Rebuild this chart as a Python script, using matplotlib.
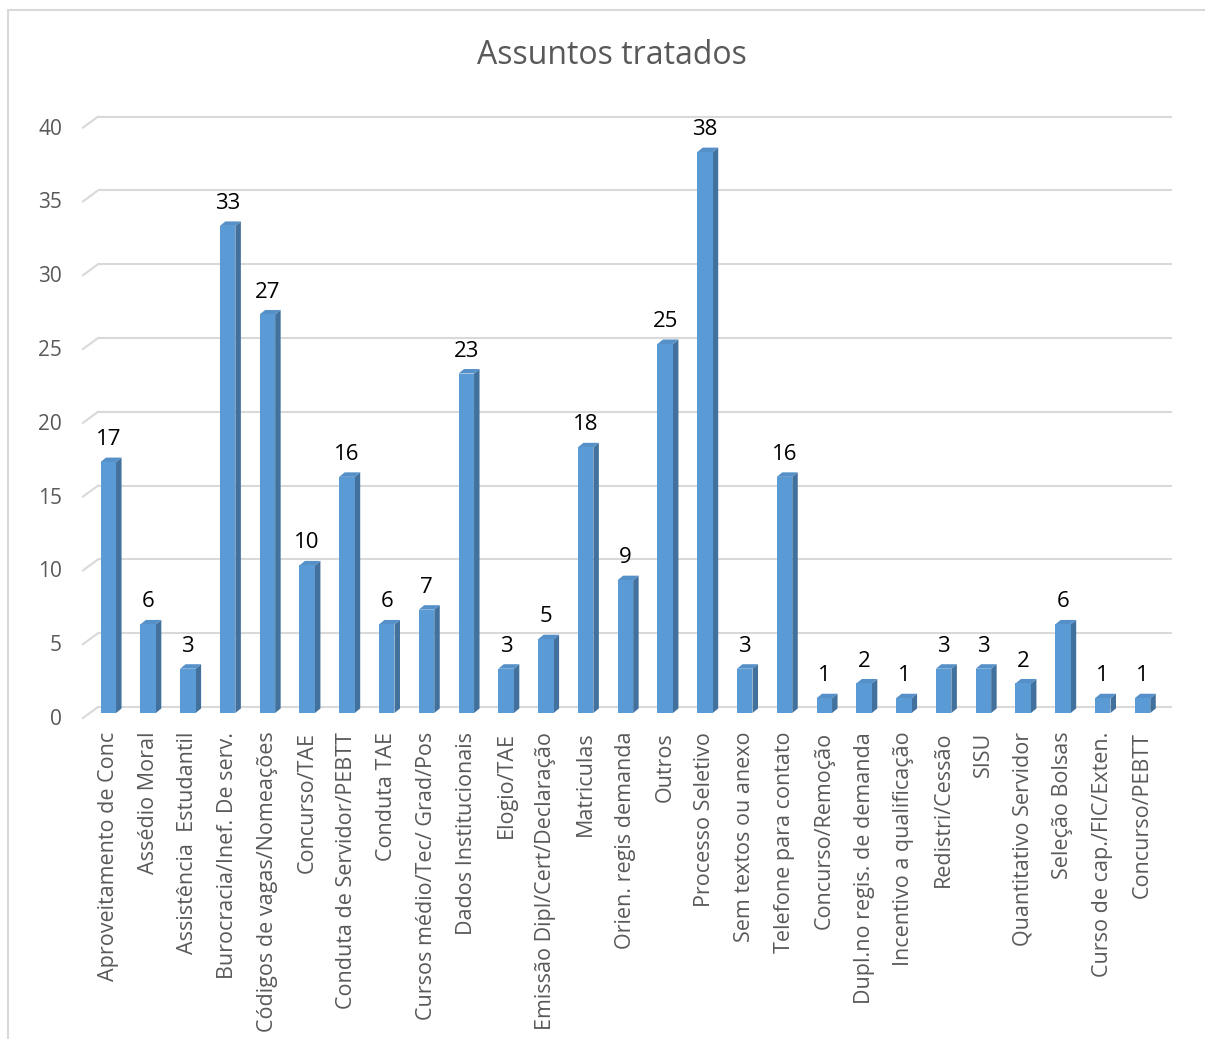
import matplotlib
matplotlib.use("Agg")
import matplotlib.pyplot as plt
from matplotlib.patches import Polygon, Rectangle
from matplotlib.transforms import ScaledTranslation

# categories and counts
categorias = [
    "Aproveitamento de Conc", "Assédio Moral", "Assistência  Estudantil",
    "Burocracia/Inef. De serv.", "Códigos de vagas/Nomeações", "Concurso/TAE",
    "Conduta de Servidor/PEBTT", "Conduta TAE", "Cursos médio/Tec/ Grad/Pos",
    "Dados Institucionais", "Elogio/TAE", "Emissão Dipl/Cert/Declaração",
    "Matriculas", "Orien. regis demanda", "Outros", "Processo Seletivo",
    "Sem textos ou anexo", "Telefone para contato", "Concurso/Remoção",
    "Dupl.no regis. de demanda", "Incentivo a qualificação", "Redistri/Cessão",
    "SISU", "Quantitativo Servidor", "Seleção Bolsas",
    "Curso de cap./FIC/Exten.", "Concurso/PEBTT",
]
valores = [17, 6, 3, 33, 27, 10, 16, 6, 7, 23, 3, 5, 18, 9, 25, 38, 3, 16,
           1, 2, 1, 3, 3, 2, 6, 1, 1]
yticks = [0, 5, 10, 15, 20, 25, 30, 35, 40]
titulo = "Assuntos tratados"

plt.rcParams["font.family"] = ["Open Sans", "DejaVu Sans"]

W, H = 1205, 1039
fig = plt.figure(figsize=(W / 100, H / 100), dpi=100)

# plot area in pixels (front plane)
x0, x1 = 88.4, 1162.4
y_zero, y_top = 713, 122.6
ax = fig.add_axes([x0 / W, (H - y_zero) / H, (x1 - x0) / W, (y_zero - y_top) / H])
n = len(categorias)
ax.set_xlim(-0.5, n - 0.5)
ax.set_ylim(0, 40)
for s in ax.spines.values():
    s.set_visible(False)

px_x = (x1 - x0) / n       # pixels per category
px_y = (y_zero - y_top) / 40  # pixels per unit

# back wall gridlines with little diagonal stubs
gx, gy = 9.6 / px_x, 6 / px_y
for v in yticks:
    ax.plot([-0.5 + gx, n - 0.5 + gx], [v + gy, v + gy], color="#d9d9d9",
            lw=1.5, zorder=0, clip_on=False, solid_capstyle="butt")
    ax.plot([-0.5 - 5.4 / px_x, -0.5 + gx], [v - 5 / px_y, v + gy],
            color="#d9d9d9", lw=1.5, zorder=0, clip_on=False)

# 3d-ish columns
bw = 15.5 / px_x
dx, dy = 5.5 / px_x, 4.5 / px_y
frente, lado, topo = "#5b9bd5", "#41719c", "#5590c8"
for i, v in enumerate(valores):
    l, r = i - bw / 2, i + bw / 2
    ax.add_patch(Polygon([(r, 0), (r + dx, dy), (r + dx, v + dy), (r, v)],
                         closed=True, fc=lado, ec="none", zorder=2, clip_on=False))
    ax.add_patch(Polygon([(l, v), (l + dx, v + dy), (r + dx, v + dy), (r, v)],
                         closed=True, fc=topo, ec="none", zorder=2, clip_on=False))
    ax.bar(i, v, width=bw, color=frente, zorder=3, clip_on=False)
    ax.annotate(str(v), (i, v), xytext=(0, 12.2), textcoords="offset points",
                ha="center", va="baseline", fontsize=16, color="#000000",
                annotation_clip=False)

ax.set_yticks(yticks)
ax.set_yticklabels([str(t) for t in yticks], fontsize=15, color="#595959")
ax.tick_params(axis="y", length=0, pad=19)
for lab in ax.get_yticklabels():
    lab.set_transform(lab.get_transform() + ScaledTranslation(0, -0.04, fig.dpi_scale_trans))

ax.set_xticks(range(n))
ax.set_xticklabels(categorias, rotation=90, fontsize=15.5, color="#595959",
                   va="top", ha="center")
ax.tick_params(axis="x", length=0, pad=13.5)

fig.text(612 / W, 1 - 56 / H, titulo, ha="center", va="center",
         fontsize=23, color="#595959")

# chart border
fig.patches.append(Rectangle((8 / W, -0.01), 1.02, 1 - 10 / H + 0.01,
                             transform=fig.transFigure, fill=False,
                             ec="#d9d9d9", lw=1.5))

fig.savefig("out.png", dpi=100)
